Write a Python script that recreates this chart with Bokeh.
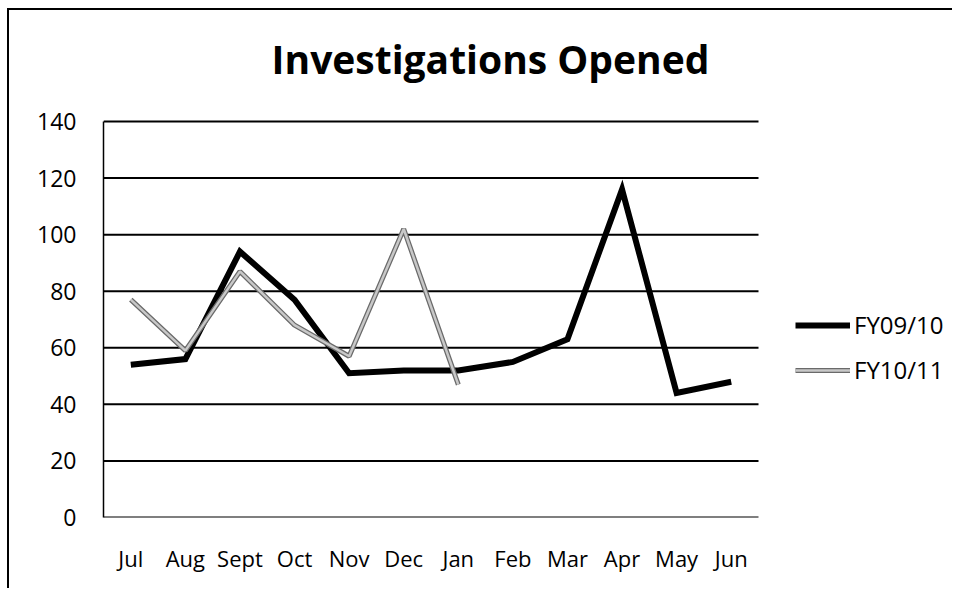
from bokeh.plotting import figure
from bokeh.models import Legend, LegendItem, FixedTicker, Range1d, Label
from bokeh.embed import file_html
from bokeh.resources import INLINE

months = ["Jul", "Aug", "Sept", "Oct", "Nov", "Dec", "Jan", "Feb", "Mar", "Apr", "May", "Jun"]
fy0910 = [54, 56, 94, 77, 51, 52, 52, 55, 63, 116, 44, 48]
fy1011_months = ["Jul", "Aug", "Sept", "Oct", "Nov", "Dec", "Jan"]
fy1011 = [77, 59, 87, 68, 57, 102, 47]
y_ticks = [0, 20, 40, 60, 80, 100, 120, 140]
title_text = "Investigations Opened"

FONT = "Open Sans"

# layout (pixels)
W, H = 945, 580
ML, MB = 94, 73
PLOT_W, PLOT_H = 655, 396      # size of the month / value area
FRAME_W, FRAME_H = W - ML, H - MB
PX_X = PLOT_W / len(months)    # pixels per month
PX_Y = PLOT_H / 140            # pixels per unit

xpos = {m: i + 0.5 for i, m in enumerate(months)}
x09 = [xpos[m] for m in months]
x10 = [xpos[m] for m in fy1011_months]
n = len(months)
ymax = y_ticks[-1]

p = figure(title=None, x_range=Range1d(0, FRAME_W / PX_X), y_range=Range1d(0, FRAME_H / PX_Y),
           width=W, height=H, output_backend="svg", toolbar_location=None, tools="",
           min_border_left=ML, min_border_right=0, min_border_top=0, min_border_bottom=MB)
p.styles = {"margin-left": "9px", "margin-top": "10px",
            "box-shadow": "-2px -2px 0px 0px black"}

p.outline_line_color = None
p.background_fill_color = "white"
p.border_fill_color = "white"
p.grid.grid_line_color = None

# horizontal grid lines spanning only the month area
p.segment(x0=[0] * len(y_ticks), x1=[n] * len(y_ticks), y0=y_ticks, y1=y_ticks,
          line_color="black", line_width=2)

# title
p.add_layout(Label(x=(490 - 103) / PX_X, y=(517 - 58) / PX_Y, text=title_text,
                   text_font=FONT, text_font_style="bold", text_font_size="39px",
                   text_color="black", text_align="center", text_baseline="alphabetic"))

p.yaxis.ticker = FixedTicker(ticks=y_ticks)
p.yaxis.bounds = (0, ymax)
p.yaxis.major_label_text_font = FONT
p.yaxis.major_label_text_font_size = "23px"
p.yaxis.major_label_text_color = "black"
p.yaxis.major_tick_line_color = None
p.yaxis.minor_tick_line_color = None
p.yaxis.axis_line_color = "black"
p.yaxis.axis_line_width = 1.5
p.yaxis.major_label_standoff = 21

p.xaxis.ticker = FixedTicker(ticks=x09)
p.xaxis.major_label_overrides = {xpos[m]: m for m in months}
p.xaxis.major_label_text_font = FONT
p.xaxis.major_label_text_font_size = "22px"
p.xaxis.major_label_text_color = "black"
p.xaxis.major_tick_line_color = None
p.xaxis.minor_tick_line_color = None
p.xaxis.axis_line_color = None
p.xaxis.major_label_standoff = 19

r1 = p.line(x09, fy0910, line_color="black", line_width=6, line_join="miter")
r2o = p.line(x10, fy1011, line_color="#6a6a6a", line_width=5)
r2i = p.line(x10, fy1011, line_color="#c8c8c8", line_width=2.5)

legend = Legend(items=[LegendItem(label="FY09/10", renderers=[r1]),
                       LegendItem(label="FY10/11", renderers=[r2o, r2i])],
                location=(692, 131))
legend.glyph_width = 55
legend.glyph_height = 20
legend.label_text_font = FONT
legend.label_text_font_size = "24px"
legend.label_text_color = "black"
legend.label_standoff = 4
legend.padding = 0
legend.margin = 0
legend.spacing = 12
legend.border_line_color = None
legend.background_fill_alpha = 0
p.add_layout(legend)

open("out.html", "w").write(file_html(p, INLINE))
